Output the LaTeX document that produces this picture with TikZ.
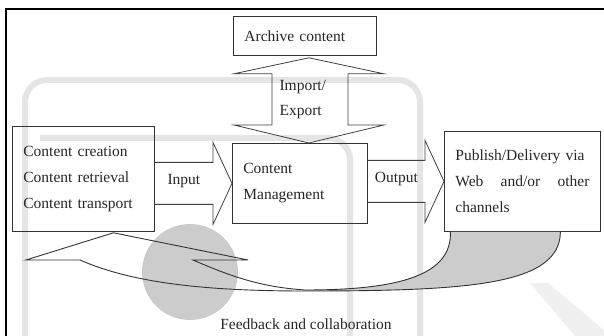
\documentclass[tikz,border=0pt]{standalone}
\usepackage{fontspec}
\setmainfont{Liberation Serif}
\usetikzlibrary{calc}

\tikzset{
  box/.style={draw=black!80, line width=0.8pt, anchor=north west,
    inner xsep=11pt, inner ysep=0pt, align=left},
  blockarrow/.style={draw=black!75, line width=0.8pt, line join=miter},
  fbline/.style={draw=black!80, line width=0.9pt},
  fbshade/.style={fill=black!20},
  band/.style={draw=black!10, line width=6pt, rounded corners=22pt},
}

% block arrow from a box side to the next box, with its label on the shaft
\newcommand{\blockarrow}[3]{%
  \draw[blockarrow] let \p1=(#1), \p2=(#2) in
    (\x1,\y2+21) -- (\x2-19,\y2+21) -- (\x2-19,\y2+41) -- (\p2)
    -- (\x2-19,\y2-41) -- (\x2-19,\y2-21) -- (\x1,\y2-21)
    (\x1/2+\x2/2-9.5,\y2+2) node {#3};
}

\begin{document}
\begin{tikzpicture}[x=1pt, y=-1pt,
    every node/.style={font=\fontsize{15.5}{26}\selectfont, text=black!85}]
  \useasboundingbox (0,0) rectangle (604,336);

  % faint logo behind everything
  \fill[black!20] (190,272) circle (48pt);
  \draw[band] (25,336) -- (25,80) -- (420,80) -- (420,336);
  \draw[band] (40,138) -- (350,138) -- (350,336);
  \fill[black!6] (530,283) -- (548,283) -- (604,330) -- (604,336) -- (575,336) -- cycle;

  % frame
  \draw[line width=1.3pt] (6,336) -- (6,9) -- (604,9);

  % boxes
  \node[box, text width=121pt, minimum height=39pt] (archive) at (233,16) {Archive content};
  \node[box, text width=120pt, minimum height=105pt] (src) at (12,126)
    {Content creation\\Content retrieval\\Content transport};
  \node[box, text width=113pt, minimum height=80pt] (cm) at (232,143)
    {Content\\Management\\[-6pt]};
  \node[box, text width=134pt, minimum height=100pt] (rcv) at (444,131)
    {Publish/Delivery via\\\makebox[134pt]{Web\hfill and/or\hfill other}\\channels};

  % import/export double arrow
  \draw[blockarrow] let \p1=(archive.south), \p2=(cm.north) in
    (\x1+4,\y1-2) -- (\x1+79,\y1-18) -- (\x1+43,\y1-18) -- (\x1+43,\y2+18)
    -- (\x1+79,\y2+18) -- (\x1+4,\y2) -- (\x1-71,\y2+18) -- (\x1-33,\y2+18)
    -- (\x1-33,\y1-18) -- (\x1-71,\y1-18) -- cycle;
  \node[anchor=west, align=left, font=\fontsize{15.5}{25}\selectfont] (io) at (276,100) {Import/\\Export};

  \blockarrow{src.east}{cm.west}{Input}
  \blockarrow{cm.east}{rcv.west}{Output}

  % feedback arrow back to the sources
  \coordinate (fbtip) at ($(src.south)+(30,1)$);
  \coordinate (fbin) at ($(rcv.south)+(-72,0)$);
  \coordinate (fbout) at ($(rcv.south)+(38,0)$);
  \fill[fbshade] (305,290) .. controls (400,290) and (452,275) .. (fbin)
    -- (fbout) .. controls (560,285) and (470,291) .. (305,291) -- cycle;
  \draw[fbline] (80,260) -- (26,260) -- (fbtip) -- (248,260) -- (193,260)
    .. controls (230,276) and (260,287) .. (305,290)
    .. controls (400,290) and (452,275) .. (fbin);
  \draw[fbline] (80,260) .. controls (130,282) and (200,291) .. (305,291)
    .. controls (470,291) and (560,285) .. (fbout);
  \node (fb) at (306,324) {Feedback and collaboration};
\end{tikzpicture}
\end{document}
